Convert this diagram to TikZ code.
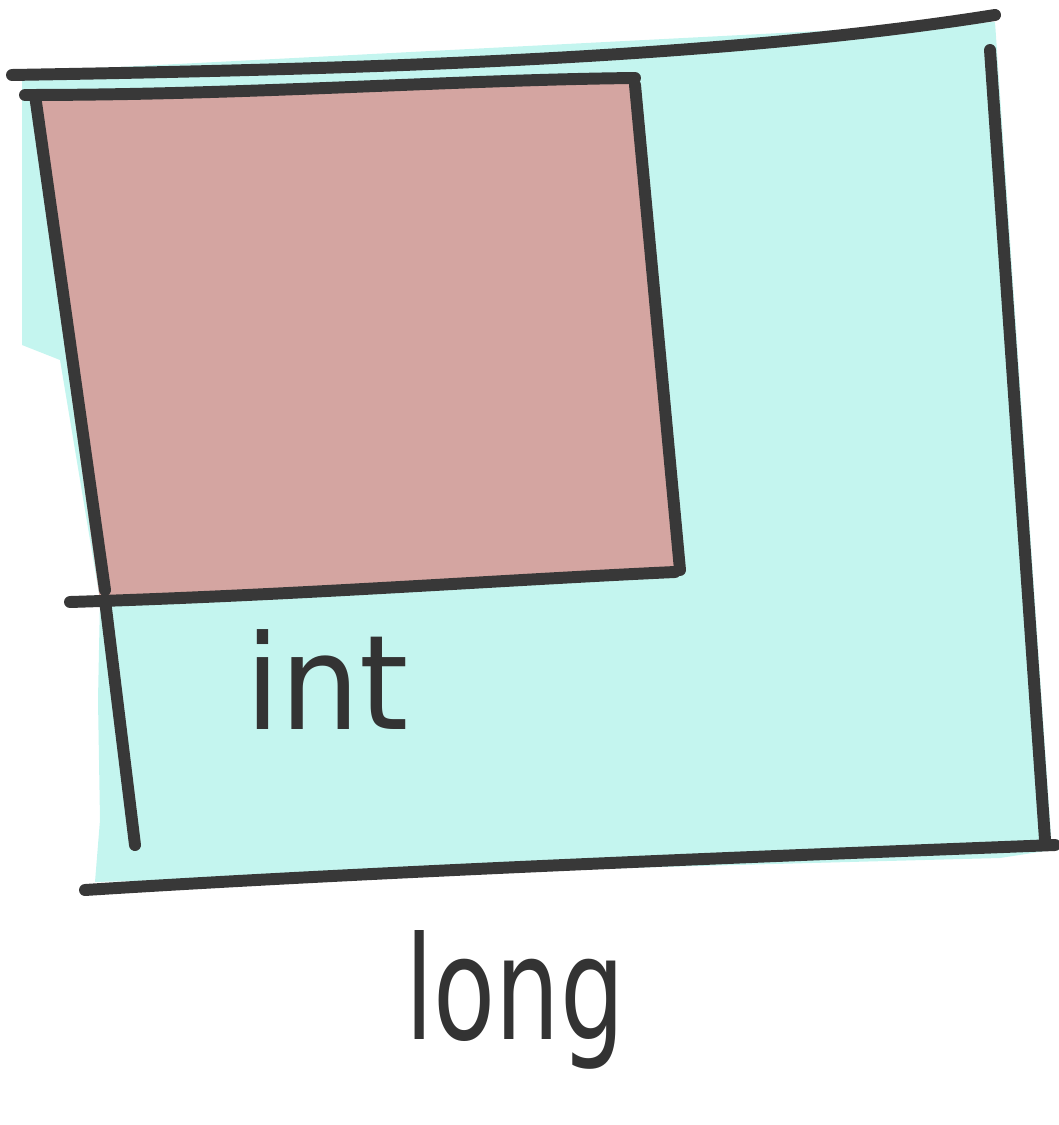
\documentclass[tikz,border=0pt]{standalone}
\usepackage{fontspec}
\setmainfont{DejaVu Sans}
\begin{document}
\begin{tikzpicture}[x=0.01cm,y=-0.01cm,
  ink/.style={draw=black!78,line width=3.4pt,line cap=round,line join=round},
  lbl/.style={font=\fontsize{34}{38}\selectfont,text=black!80}]
\useasboundingbox (0,0) rectangle (1058,1125);
\definecolor{cyanfill}{HTML}{C4F5EF}
\definecolor{redfill}{HTML}{D4A5A1}
% fills
\fill[cyanfill] (22,72) -- (995,22) -- (1052,850) -- (1000,858) -- (95,882) -- (100,820) -- (98,700) -- (100,600) -- (60,360) -- (22,345) -- (22,250) -- cycle;
\fill[redfill] (30,95) -- (635,78) -- (680,575) -- (100,600) -- cycle;
% lines
\draw[ink] (12,75) .. controls (300,70) and (700,62) .. (995,15);
\draw[ink] (25,95) .. controls (250,95) and (450,80) .. (635,78);
\draw[ink] (35,95) -- (105,590);
\draw[ink] (635,85) -- (680,570);
\draw[ink] (70,602) .. controls (300,595) and (500,580) .. (675,572);
\draw[ink] (105,600) -- (135,845);
\draw[ink] (990,50) -- (1045,840);
\draw[ink] (85,890) .. controls (400,870) and (800,855) .. (1055,845);
% labels
\node[lbl,xscale=1.05,yscale=1.1] (int) at (327,680) {int};
\node[lbl,xscale=0.85,yscale=1.2] (long) at (515,1000) {long};
\end{tikzpicture}
\end{document}
